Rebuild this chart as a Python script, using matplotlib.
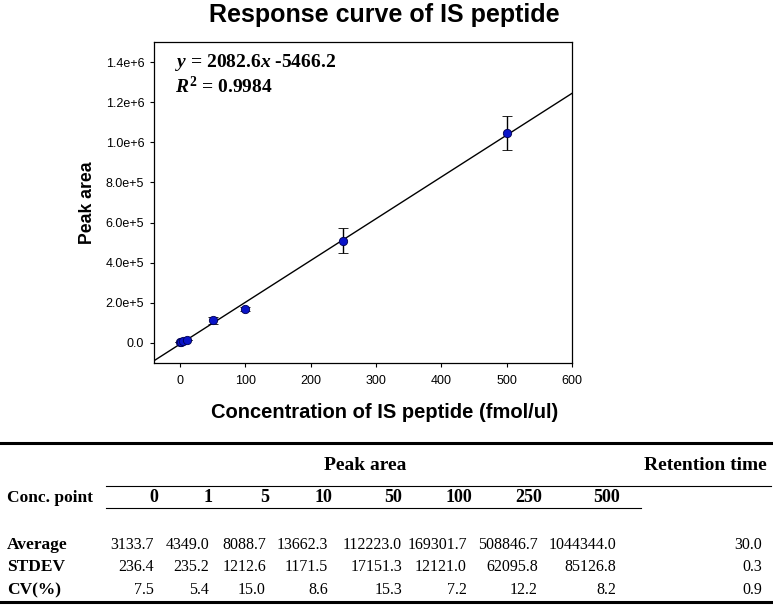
import numpy as np
import matplotlib
matplotlib.use("Agg")
import matplotlib.pyplot as plt
from matplotlib.lines import Line2D

plt.rcParams['font.family'] = ['Liberation Sans', 'DejaVu Sans']
plt.rcParams['mathtext.fontset'] = 'custom'
plt.rcParams['mathtext.rm'] = 'Liberation Serif:bold'
plt.rcParams['mathtext.it'] = 'Liberation Serif:italic:bold'
plt.rcParams['mathtext.bf'] = 'Liberation Serif:bold'

# data
conc = [0, 1, 5, 10, 50, 100, 250, 500]
average = [3133.7, 4349.0, 8088.7, 13662.3, 112223.0, 169301.7, 508846.7, 1044344.0]
stdev = [236.4, 235.2, 1212.6, 1171.5, 17151.3, 12121.0, 62095.8, 85126.8]
cv = [7.5, 5.4, 15.0, 8.6, 15.3, 7.2, 12.2, 8.2]
rt_average, rt_stdev, rt_cv = 30.0, 0.3, 0.9

slope, intercept = 2082.6, -5466.2
r2 = 0.9984

yticks = [0, 2e5, 4e5, 6e5, 8e5, 1e6, 1.2e6, 1.4e6]
ytick_labels = ["0.0", "2.0e+5", "4.0e+5", "6.0e+5", "8.0e+5", "1.0e+6", "1.2e+6", "1.4e+6"]
xticks = [0, 100, 200, 300, 400, 500, 600]

W, H = 773, 606
fig = plt.figure(figsize=(W / 100, H / 100), dpi=100)

def fx(px):
    return px / W

def fy(py):
    return 1 - py / H

serif = 'Liberation Serif'

# plot area
ax = fig.add_axes([fx(154), fy(363), fx(572) - fx(154), fy(42) - fy(363)])
xlim = (-40, 600)
xs = np.array(xlim)
ax.plot(xs, slope * xs + intercept, color='black', lw=1)
ax.errorbar(conc, average, yerr=stdev, fmt='o', color='#0a14c8', mec='#000050',
            mew=0.6, ms=6, ecolor='black', elinewidth=1, capsize=3.5, capthick=1,
            zorder=3)
ax.set_xlim(*xlim)
ax.set_ylim(-1e5, 1.5e6)
ax.set_xticks(xticks)
ax.set_yticks(yticks)
ax.set_yticklabels(ytick_labels)
ax.tick_params(direction='out', length=3, width=0.8, labelsize=9, pad=4)
ax.tick_params(axis='x', pad=6)
for s in ax.spines.values():
    s.set_linewidth(0.9)

ax.text(0.05, 0.935, r'$y$ = 2082.6$x$ -5466.2', transform=ax.transAxes,
        family=serif, fontweight='bold', fontsize=14, va='center', ha='left')
ax.text(0.05, 0.862, r'$R^2$ = %.4f' % r2, transform=ax.transAxes,
        family=serif, fontweight='bold', fontsize=14, va='center', ha='left')

fig.text(fx(384), fy(15), "Response curve of IS peptide", ha='center', va='center',
         fontsize=18, fontweight='bold')
fig.text(fx(385), fy(412), "Concentration of IS peptide (fmol/ul)", ha='center',
         va='center', fontsize=14.5, fontweight='bold')
fig.text(fx(88), fy(203), "Peak area", ha='center', va='center', rotation=90,
         fontsize=12.7, fontweight='bold')

# table below the chart
def hline(x0, x1, y, lw):
    fig.add_artist(Line2D([fx(x0), fx(x1)], [fy(y), fy(y)], color='black', lw=lw,
                          transform=fig.transFigure))

hline(0, 773, 442.5, 2.2)
hline(106, 771, 486, 0.8)
hline(106, 641, 508, 0.8)
hline(0, 773, 602, 2.2)

fig.text(fx(365), fy(465), "Peak area", family=serif, fontweight='bold', fontsize=14,
         ha='center', va='center')
fig.text(fx(767), fy(465), "Retention time", family=serif, fontweight='bold',
         fontsize=14, ha='right', va='center')
fig.text(fx(7), fy(498), "Conc. point", family=serif, fontweight='bold', fontsize=12.5,
         ha='left', va='center')

head_right = [158, 213, 269, 332, 402, 472, 542, 620]
num_right = [154, 209, 266, 328, 402, 467, 538, 616]
for c, xr in zip(conc, head_right):
    fig.text(fx(xr), fy(498), str(c), family=serif, fontweight='bold', fontsize=13,
             ha='right', va='center')

rows = [("Average", average, rt_average, 545),
        ("STDEV", stdev, rt_stdev, 567),
        ("CV(%)", cv, rt_cv, 590)]
for label, vals, rt, yy in rows:
    fig.text(fx(7), fy(yy), label, family=serif, fontweight='bold', fontsize=12.5,
             ha='left', va='center')
    for v, xr in zip(vals, num_right):
        fig.text(fx(xr), fy(yy), f"{v:.1f}", family=serif, fontsize=11.5,
                 ha='right', va='center')
    fig.text(fx(762), fy(yy), f"{rt:.1f}", family=serif, fontsize=11.5,
             ha='right', va='center')

fig.savefig("out.png", dpi=100)
